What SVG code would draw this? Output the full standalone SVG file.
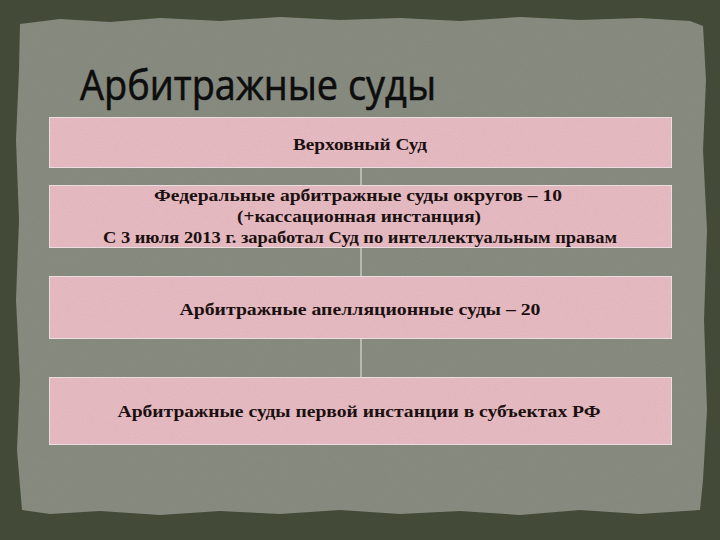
<svg xmlns="http://www.w3.org/2000/svg" width="720" height="540" viewBox="0 0 720 540">
  <defs>
    <filter id="grain" x="0" y="0" width="100%" height="100%">
      <feTurbulence type="fractalNoise" baseFrequency="0.9" numOctaves="2" seed="3" result="n"/>
      <feColorMatrix in="n" type="matrix" values="0 0 0 0 0  0 0 0 0 0  0 0 0 0 0  0 0 0 0.12 0" result="a"/>
      <feComposite in="a" in2="SourceGraphic" operator="in" result="b"/>
      <feMerge><feMergeNode in="SourceGraphic"/><feMergeNode in="b"/></feMerge>
    </filter>
  </defs>
  <style>
    .box { fill: #eabdc5; stroke: #f5f0f0; stroke-width: 1.5; }
    .lbl { font-family: "Liberation Serif", "DejaVu Serif", serif; font-weight: bold; font-size: 16px; fill: #1a1010; text-anchor: middle; }
    .conn { stroke: #ece8e4; stroke-width: 1; fill: none; }
  </style>
  <rect x="0" y="0" width="720" height="540" fill="#434a38"/>
  <path d="M20,24 L60,19 L110,22 L160,18 L220,21 L280,17 L340,20 L400,18 L460,21 L520,17 L580,20 L640,18 L690,21 L703,26 L706,80 L703,150 L707,230 L704,320 L707,410 L703,480 L700,510 L640,514 L580,510 L520,515 L460,511 L400,514 L340,510 L280,514 L220,511 L160,515 L100,511 L50,514 L22,510 L17,450 L20,380 L16,300 L19,220 L16,140 L19,70 Z" fill="#8a8e82" filter="url(#grain)"/>
  <text x="80" y="100" font-family="Open Sans, DejaVu Sans, sans-serif" font-size="42" fill="#0d0d0d" stroke="#0d0d0d" stroke-width="0.6" textLength="356" lengthAdjust="spacingAndGlyphs">Арбитражные суды</text>
  <g id="connectors">
    <line class="conn" x1="361" y1="168" x2="361" y2="185"/>
    <line class="conn" x1="361" y1="248" x2="361" y2="276"/>
    <line class="conn" x1="361" y1="339" x2="361" y2="377"/>
  </g>
  <g id="node1">
    <rect class="box" x="49" y="117" width="623" height="51" filter="url(#grain)"/>
    <text class="lbl" x="360" y="150" textLength="134" lengthAdjust="spacingAndGlyphs">Верховный Суд</text>
  </g>
  <g id="node2">
    <rect class="box" x="49" y="185" width="623" height="63" filter="url(#grain)"/>
    <text class="lbl" x="358" y="201" textLength="408" lengthAdjust="spacingAndGlyphs">Федеральные арбитражные суды округов – 10</text>
    <text class="lbl" x="359" y="222" font-size="17" textLength="244" lengthAdjust="spacingAndGlyphs">(+кассационная инстанция)</text>
    <text class="lbl" x="360" y="243" textLength="514" lengthAdjust="spacingAndGlyphs">С 3 июля 2013 г. заработал Суд по интеллектуальным правам</text>
  </g>
  <g id="node3">
    <rect class="box" x="49" y="276" width="623" height="63" filter="url(#grain)"/>
    <text class="lbl" x="360" y="315" textLength="361" lengthAdjust="spacingAndGlyphs">Арбитражные апелляционные суды – 20</text>
  </g>
  <g id="node4">
    <rect class="box" x="49" y="377" width="623" height="68" filter="url(#grain)"/>
    <text class="lbl" x="359" y="417" textLength="483" lengthAdjust="spacingAndGlyphs">Арбитражные суды первой инстанции в субъектах РФ</text>
  </g>
</svg>
